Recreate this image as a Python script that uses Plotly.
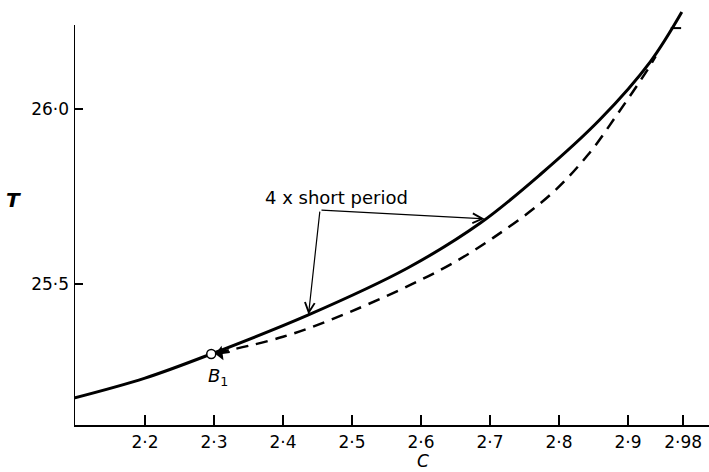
import plotly.graph_objects as go

# ---- data ----
c_solid = [2.097, 2.2, 2.296, 2.436, 2.58, 2.686, 2.7725, 2.859, 2.932, 2.978]
T_solid = [25.174, 25.231, 25.300, 25.411, 25.545, 25.674, 25.812, 25.969, 26.134, 26.277]

c_dashed = [2.304, 2.400, 2.497, 2.628, 2.704, 2.787, 2.842, 2.886, 2.928, 2.940]
T_dashed = [25.303, 25.349, 25.420, 25.540, 25.631, 25.754, 25.869, 25.989, 26.111, 26.150]

b1_c, b1_T = 2.296, 25.300

x_tickvals = [2.2, 2.3, 2.4, 2.5, 2.6, 2.7, 2.8, 2.9, 2.98]
x_ticktext = ["2·2", "2·3", "2·4", "2·5", "2·6", "2·7", "2·8", "2·9", "2·98"]
y_tickvals = [25.5, 26.0]
y_ticktext = ["25·5", "26·0"]

x_range = [2.0971, 3.0174]
y_range = [25.097, 26.297]
y_axis_top = 26.24

# annotation anchor points (data coordinates)
label_text = "4 x short period"
label_c, label_T = 2.477, 25.748
bracket_vertex = (2.4536, 25.711)
bracket_tip_right = (2.692, 25.686)
bracket_tip_down = (2.437, 25.413)
dash_arrow_from = (2.325, 25.306)
end_tick_c = [2.962, 2.977]
end_tick_T = [26.231, 26.231]

FONT = "DejaVu Sans"

fig = go.Figure()

fig.add_trace(go.Scatter(x=c_solid, y=T_solid, mode="lines",
                         line=dict(color="black", width=3, shape="spline", smoothing=1.0),
                         showlegend=False, hoverinfo="skip"))
fig.add_trace(go.Scatter(x=c_dashed, y=T_dashed, mode="lines",
                         line=dict(color="black", width=2.5, dash="12px,8px", shape="spline", smoothing=1.0),
                         showlegend=False, hoverinfo="skip"))
fig.add_trace(go.Scatter(x=end_tick_c, y=end_tick_T, mode="lines",
                         line=dict(color="black", width=2),
                         showlegend=False, hoverinfo="skip"))
fig.add_trace(go.Scatter(x=[b1_c], y=[b1_T], mode="markers",
                         marker=dict(size=9, color="white", line=dict(color="black", width=1.5)),
                         showlegend=False, hoverinfo="skip"))

# y axis line (stops below the top of the plot area)
fig.add_shape(type="line", xref="x", yref="y", x0=x_range[0], x1=x_range[0],
              y0=y_range[0], y1=y_axis_top, line=dict(color="black", width=2))

annotations = [
    dict(x=label_c, y=label_T, xref="x", yref="y", text=label_text, showarrow=False,
         font=dict(family=FONT, size=18, color="black")),
    dict(x=bracket_tip_right[0], y=bracket_tip_right[1], ax=bracket_vertex[0], ay=bracket_vertex[1],
         xref="x", yref="y", axref="x", ayref="y", text="", showarrow=True,
         arrowhead=5, arrowsize=1.6, arrowwidth=1.2, arrowcolor="black", standoff=0),
    dict(x=bracket_tip_down[0], y=bracket_tip_down[1], ax=bracket_vertex[0], ay=bracket_vertex[1],
         xref="x", yref="y", axref="x", ayref="y", text="", showarrow=True,
         arrowhead=5, arrowsize=1.6, arrowwidth=1.2, arrowcolor="black", standoff=0),
    dict(x=b1_c + 0.006, y=b1_T, ax=dash_arrow_from[0], ay=dash_arrow_from[1],
         xref="x", yref="y", axref="x", ayref="y", text="", showarrow=True,
         arrowhead=1, arrowsize=1.2, arrowwidth=2, arrowcolor="black", standoff=0),
    dict(x=b1_c + 0.010, y=b1_T - 0.065, xref="x", yref="y", text="<i>B</i><sub>1</sub>",
         showarrow=False, font=dict(family=FONT, size=18, color="black")),
    dict(x=-0.096, y=0.536, xref="paper", yref="paper", text="<b><i>T</i></b>",
         showarrow=False, font=dict(family=FONT, size=20, color="black"),
         yanchor="middle", xanchor="center"),
    dict(x=0.5496, y=-0.086, xref="paper", yref="paper", text="<i>C</i>",
         showarrow=False, font=dict(family=FONT, size=17, color="black"),
         yanchor="middle", xanchor="center"),
]

fig.update_layout(
    width=709, height=472,
    margin=dict(l=74, r=0, t=5, b=47, pad=0),
    plot_bgcolor="white", paper_bgcolor="white",
    annotations=annotations,
    xaxis=dict(range=x_range, tickvals=x_tickvals, ticktext=x_ticktext,
               ticks="inside", ticklen=10, tickwidth=2, tickcolor="black",
               showline=True, linecolor="black", linewidth=2,
               showgrid=False, zeroline=False, ticklabelstandoff=1,
               tickfont=dict(family=FONT, size=17, color="black")),
    yaxis=dict(range=y_range, tickvals=y_tickvals, ticktext=y_ticktext,
               ticks="inside", ticklen=9, tickwidth=2, tickcolor="black",
               showline=False, showgrid=False, zeroline=False, ticklabelstandoff=4,
               tickfont=dict(family=FONT, size=17, color="black")),
)

fig.write_html("out.html", post_script="document.body.style.margin='0';",
               config={"displayModeBar": False})
